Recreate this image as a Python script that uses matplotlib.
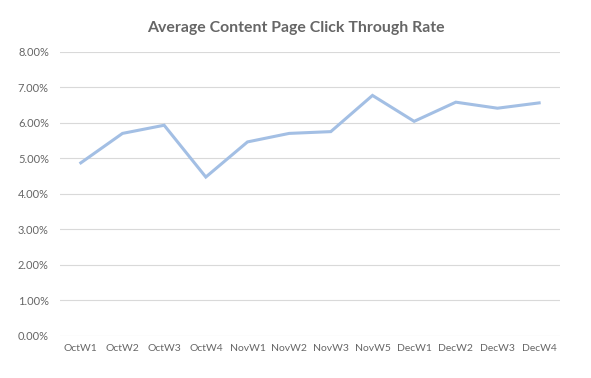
import matplotlib.pyplot as plt
from matplotlib.ticker import FuncFormatter

weeks = ['OctW1', 'OctW2', 'OctW3', 'OctW4', 'NovW1', 'NovW2', 'NovW3',
         'NovW5', 'DecW1', 'DecW2', 'DecW3', 'DecW4']
ctr = [4.87, 5.70, 5.93, 4.47, 5.46, 5.70, 5.75, 6.77, 6.04, 6.58, 6.41, 6.56]

plt.rcParams['font.family'] = ['Lato', 'DejaVu Sans']

fig = plt.figure(figsize=(5.91, 3.78), dpi=100)
ax = fig.add_axes([0.1015, 0.112, 0.846, 0.751])

x = list(range(len(weeks)))
ax.plot(x, ctr, color='#a3bfe4', linewidth=2.2, solid_joinstyle='miter', zorder=3)

ax.set_xlim(-0.5, len(weeks) - 0.5)
ax.set_ylim(0, 8)
ax.set_yticks(range(0, 9))
ax.yaxis.set_major_formatter(FuncFormatter(lambda v, p: '{:.2f}%'.format(v)))
ax.set_xticks(x)
ax.set_xticklabels(weeks)

ax.grid(axis='y', color='#d9d9d9', linewidth=0.8)
for s in ax.spines.values():
    s.set_visible(False)
ax.tick_params(length=0, colors='#666666', labelsize=7.5)
ax.tick_params(axis='y', pad=8, labelsize=8)
ax.tick_params(axis='x', pad=6)

fig.suptitle('Average Content Page Click Through Rate', y=0.945, fontsize=11.4,
             color='#666666', fontweight='bold')

fig.savefig('out.png', dpi=100)
